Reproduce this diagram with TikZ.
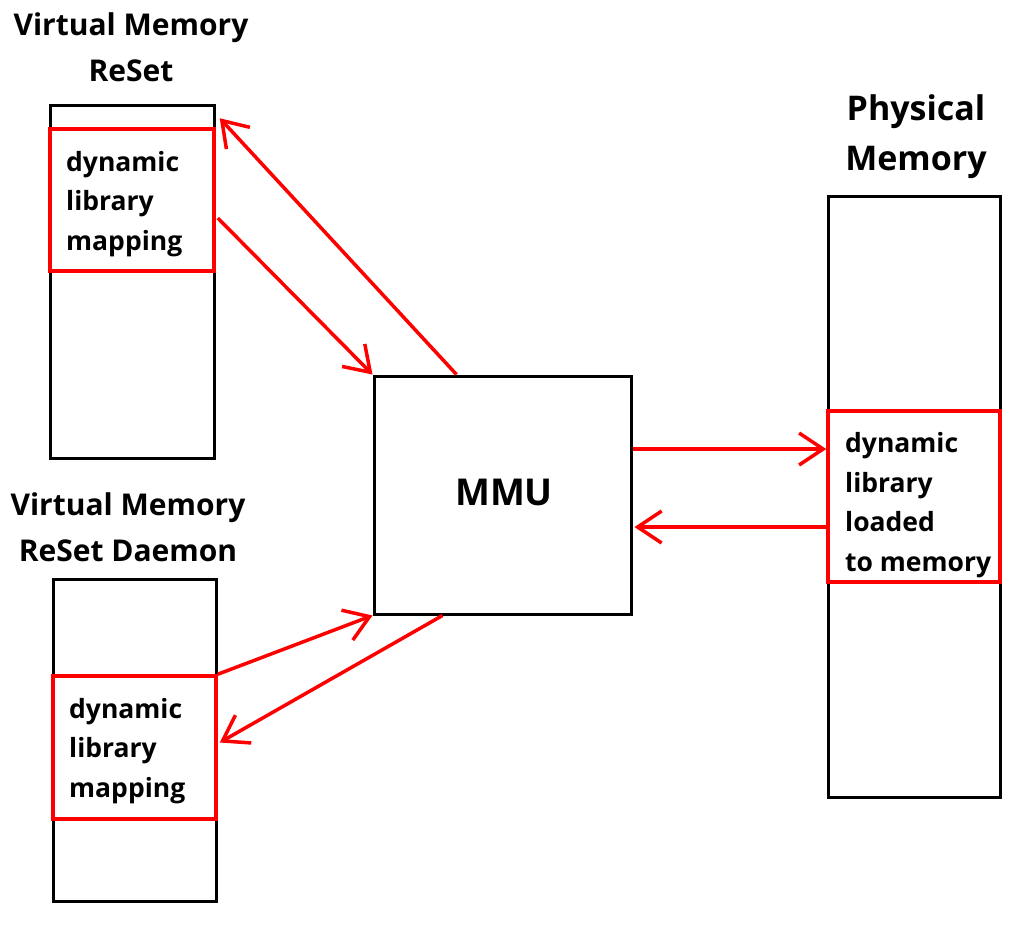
\documentclass[tikz,border=0pt]{standalone}
\usepackage{fontspec}
\setmainfont{Open Sans}
\usetikzlibrary{arrows.meta}
\begin{document}
\begin{tikzpicture}[x=1pt,y=-1pt,
  mem/.style={draw=black,line width=3pt,inner sep=0pt},
  red/.style={draw=red,line width=3.5pt,inner sep=0pt},
  txt/.style={anchor=west,align=left,inner sep=0pt,font=\bfseries\fontsize{26.5}{39.7}\selectfont},
  ttl/.style={align=center,inner sep=0pt,font=\bfseries\fontsize{30}{46.5}\selectfont},
  arr/.style={draw=red,line width=3.5pt,-{Straight Barb[length=24pt,width=32pt,line width=3.5pt]}}]
\useasboundingbox (0,0) rectangle (1021,932);
% VM ReSet
\node[mem,minimum width=164,minimum height=353] (vm1) at (132,281.5) {};
\node[red,minimum width=164,minimum height=142] (r1) at (132,200) {};
\node[txt] (t1) at (66,204) {dynamic\\library\\mapping};
\node[ttl] (h1) at (131,47) {Virtual Memory\\ReSet};
% VM Daemon
\node[mem,minimum width=163,minimum height=322] (vm2) at (134.5,740) {};
\node[red,minimum width=163,minimum height=143] (r2) at (134.5,747.5) {};
\node[txt] (t2) at (69,751) {dynamic\\library\\mapping};
\node[ttl] (h2) at (128,527) {Virtual Memory\\ReSet Daemon};
% MMU
\node[mem,minimum width=257,minimum height=238] (mmu) at (502.5,495) {};
\node[inner sep=0pt,font=\bfseries\fontsize{37}{40}\selectfont] (mt) at (504,492) {MMU};
% Physical
\node[mem,minimum width=172,minimum height=601] (pm) at (914,496.5) {};
\node[red,minimum width=172,minimum height=171] (r3) at (914,496.5) {};
\node[txt] (t3) at (845,505) {dynamic\\library\\loaded\\to memory};
\node[ttl,font=\bfseries\fontsize{34}{50}\selectfont] (h3) at (916,137) {Physical\\Memory};
% arrows
\draw[arr] ([xshift=-46pt]mmu.north) -- ([xshift=4pt,yshift=9pt]r1.north east);
\draw[arr] ([xshift=2pt,yshift=-18pt]r1.east) -- (mmu.north west);
\draw[arr] ([yshift=46pt]mmu.east) -- ([yshift=47.5pt]r3.west);
\draw[arr] ([yshift=-30.5pt]r3.west) -- ([xshift=2pt,yshift=-32pt]mmu.east);
\draw[arr] (r2.north east) -- (mmu.south west);
\draw[arr] ([xshift=-60pt]mmu.south) -- ([xshift=2pt,yshift=5pt]r2.east);
\end{tikzpicture}
\end{document}
